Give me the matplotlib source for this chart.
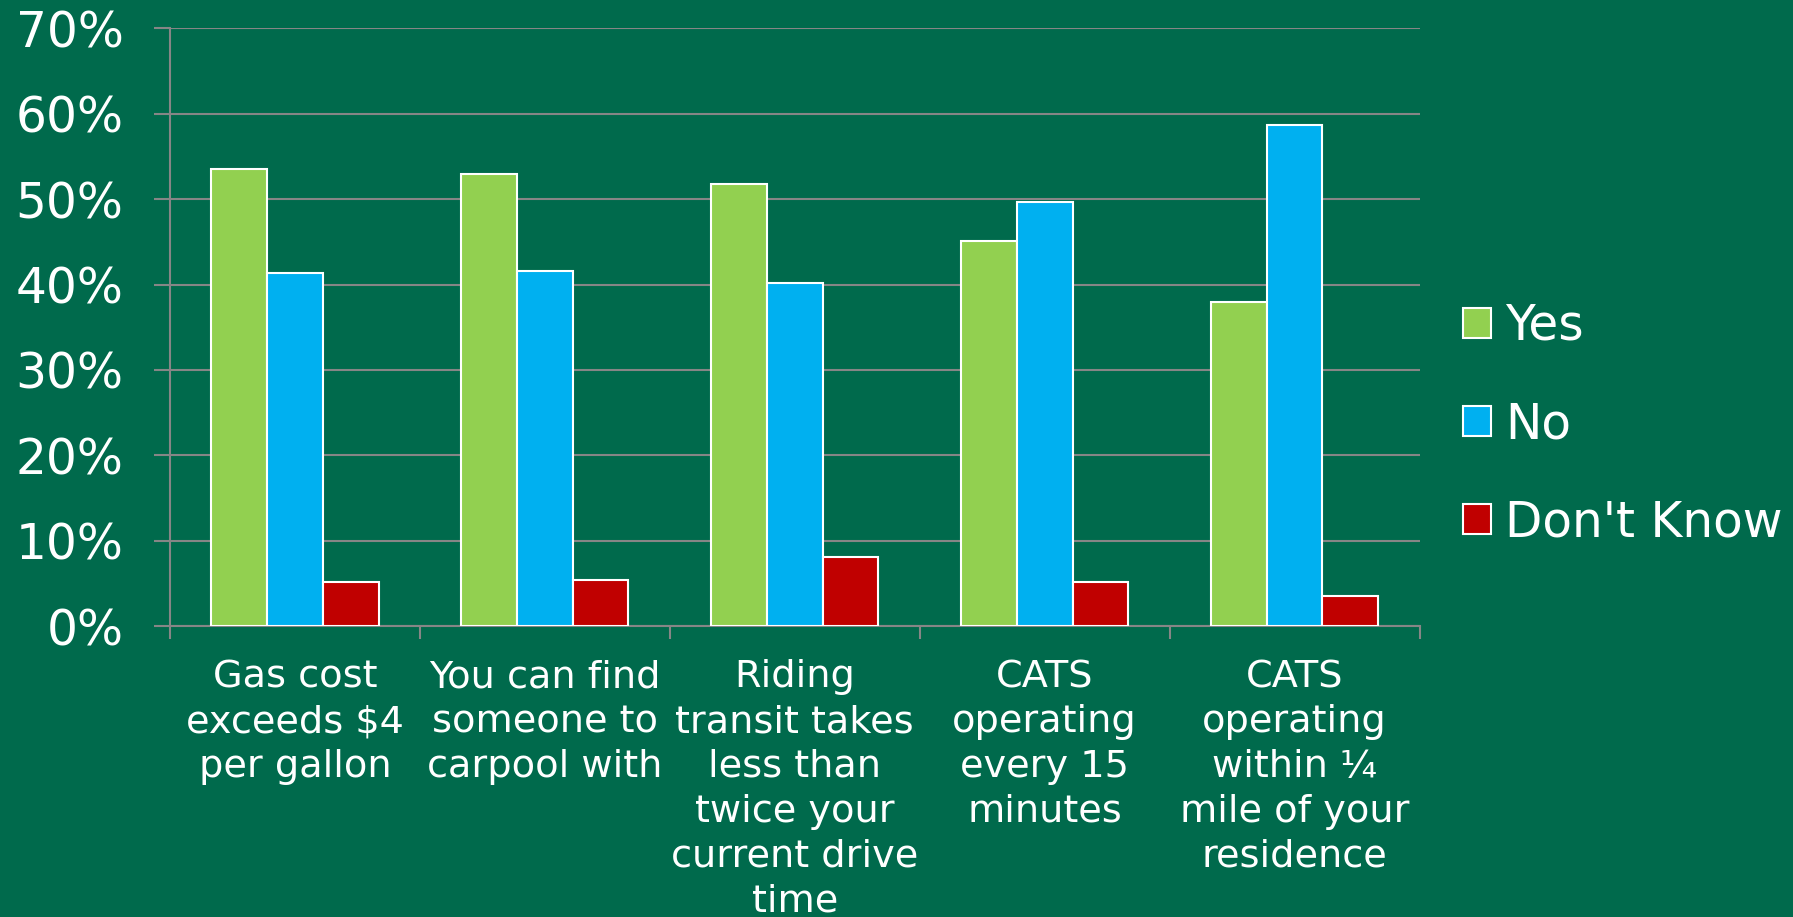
import matplotlib
matplotlib.use("Agg")
import matplotlib.pyplot as plt
import numpy as np

categories = [
    "Gas cost\nexceeds $4\nper gallon",
    "You can find\nsomeone to\ncarpool with",
    "Riding\ntransit takes\nless than\ntwice your\ncurrent drive\ntime",
    "CATS\noperating\nevery 15\nminutes",
    "CATS\noperating\nwithin ¼\nmile of your\nresidence",
]
series_names = ["Yes", "No", "Don't Know"]
yes_vals = [53.5, 53.0, 51.8, 45.1, 38.0]
no_vals = [41.4, 41.6, 40.2, 49.7, 58.7]
dk_vals = [5.2, 5.4, 8.1, 5.2, 3.5]
y_ticks = [0, 10, 20, 30, 40, 50, 60, 70]
y_tick_labels = ["0%", "10%", "20%", "30%", "40%", "50%", "60%", "70%"]

colors = ["#92D050", "#00B0F0", "#C00000"]
bg = "#006A4C"
gridc = "#868686"

plt.rcParams['font.family'] = ['DejaVu Sans']

fig = plt.figure(figsize=(17.93, 9.17), dpi=100, facecolor=bg)
ax = fig.add_axes([170/1793, 1-626/917, (1419.5-170)/1793, (626-28.4)/917])
ax.set_facecolor(bg)

x = np.arange(len(categories))
w = 0.223
for i, (vals, name) in enumerate(zip([yes_vals, no_vals, dk_vals], series_names)):
    ax.bar(x + (i-1)*w, vals, width=w, color=colors[i], edgecolor="white",
           linewidth=1.5, label=name, zorder=3)

ax.set_xlim(-0.5, len(categories)-0.5)
ax.set_ylim(0, 70)
ax.set_yticks(y_ticks)
ax.set_yticklabels(y_tick_labels)
ax.yaxis.grid(True, color=gridc, linewidth=1.5, zorder=0)
ax.set_axisbelow(True)

ax.set_xticks(x)
ax.set_xticklabels(categories, linespacing=1.315)
ax.set_xticks(np.arange(-0.5, len(categories)), minor=True)

for s in ["top", "right"]:
    ax.spines[s].set_visible(False)
for s in ["left", "bottom"]:
    ax.spines[s].set_color(gridc)
    ax.spines[s].set_linewidth(1.5)

ax.tick_params(axis="y", colors=gridc, length=11.5, width=1.5, pad=22,
               labelcolor="white", labelsize=35)
ax.tick_params(axis="x", which="major", length=0, pad=24, labelcolor="white",
               labelsize=27.5)
ax.tick_params(axis="x", which="minor", length=9, width=1.5, color=gridc)

leg = fig.legend(loc="center left", bbox_to_anchor=(1463/1793, 1-424/917),
                 frameon=False, fontsize=35, labelcolor="white",
                 handlelength=0.57, handleheight=0.57, handletextpad=0.3,
                 labelspacing=1.03, borderpad=0, borderaxespad=0)

fig.savefig("out.png", dpi=100, facecolor=bg)
